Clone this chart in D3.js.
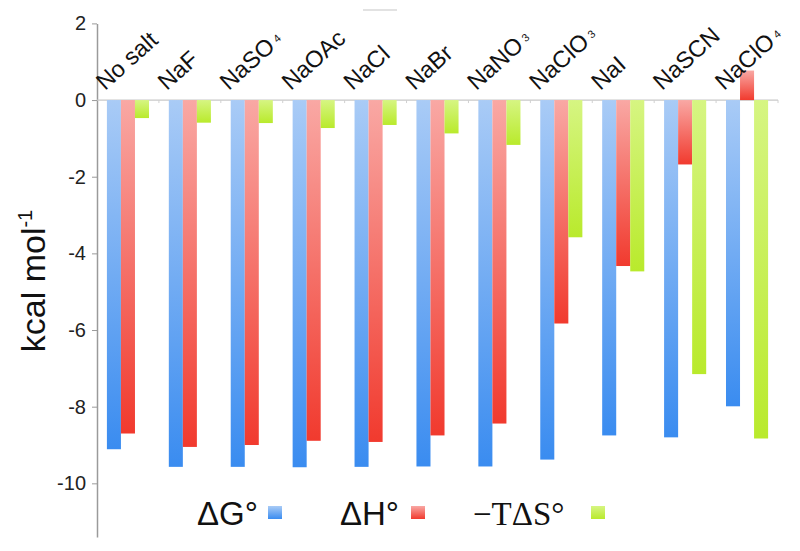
<!DOCTYPE html>
<html>
<head>
<meta charset="utf-8">
<script src="https://cdn.jsdelivr.net/npm/d3@7"></script>
<style>
  html, body { margin: 0; padding: 0; background: #fff; }
  svg { display: block; }
</style>
</head>
<body>
<svg id="chart" width="800" height="551"></svg>
<script>
// ---- data ----
const categories = ["No salt", "NaF", "NaSO4", "NaOAc", "NaCl", "NaBr", "NaNO3", "NaClO3", "NaI", "NaSCN", "NaClO4"];
// label pieces: main text and subscript
const labelMain = ["No salt", "NaF", "NaSO", "NaOAc", "NaCl", "NaBr", "NaNO", "NaClO", "NaI", "NaSCN", "NaClO"];
const labelSub  = ["", "", "4", "", "", "", "3", "3", "", "", "4"];
const dG  = [-9.11, -9.57, -9.57, -9.58, -9.57, -9.56, -9.56, -9.38, -8.75, -8.80, -7.99];
const dH  = [-8.70, -9.05, -9.00, -8.89, -8.92, -8.75, -8.44, -5.83, -4.33, -1.68, 0.77];
const TdS = [-0.47, -0.59, -0.60, -0.73, -0.65, -0.87, -1.17, -3.58, -4.47, -7.15, -8.83];
const seriesNames = ["dG", "dH", "TdS"];
const yTicks = [2, 0, -2, -4, -6, -8, -10];

// ---- layout ----
const svg = d3.select("#chart");
const xLeft = 97, xRight = 778;
const y = d3.scaleLinear().domain([-11.4, 2]).range([537, 23.4]);
const x0 = d3.scaleBand().domain(categories).range([xLeft, xRight]).paddingInner(0.32).paddingOuter(0.16);
const x1 = d3.scaleBand().domain(seriesNames).range([0, x0.bandwidth()]).padding(0);

const colors = {
  dG:  ["#a9cbf6", "#3a8cf0"],
  dH:  ["#f9a8a4", "#f13a2e"],
  TdS: ["#d6f582", "#b9ea2c"]
};
const defs = svg.append("defs");
seriesNames.forEach(s => {
  const g = defs.append("linearGradient").attr("id", "grad-" + s)
    .attr("x1", 0).attr("y1", 0).attr("x2", 0).attr("y2", 1);
  g.append("stop").attr("offset", "0%").attr("stop-color", colors[s][0]);
  g.append("stop").attr("offset", "100%").attr("stop-color", colors[s][1]);
});

// small decorative line at the top
svg.append("line").attr("x1", 363).attr("x2", 397).attr("y1", 10).attr("y2", 10)
  .attr("stroke", "#d8d8d8").attr("stroke-width", 1.5);

// y axis
const yAxis = d3.axisLeft(y).tickValues(yTicks).tickSize(5).tickSizeOuter(0).tickFormat(d3.format("d"));
const gy = svg.append("g").attr("transform", `translate(${xLeft},0)`).call(yAxis);
gy.select(".domain").attr("stroke", "#9a9a9a").attr("stroke-width", 1.5);
gy.selectAll(".tick line").attr("stroke", "#9a9a9a");
gy.selectAll(".tick text")
  .attr("font-family", "Liberation Sans, Arial, sans-serif")
  .attr("font-size", 20).attr("fill", "#222").attr("x", -11)
  .text(d => d < 0 ? "-" + Math.abs(d) : d);

// zero line
svg.append("line").attr("x1", xLeft).attr("x2", xRight).attr("y1", y(0)).attr("y2", y(0))
  .attr("stroke", "#c8c8c8").attr("stroke-width", 1.2);
// small ticks at category boundaries
svg.append("g").selectAll("line").data(categories.slice(1).concat(["__end"]))
  .join("line")
  .attr("x1", (d, i) => xLeft + (i + 1) * x0.step())
  .attr("x2", (d, i) => xLeft + (i + 1) * x0.step())
  .attr("y1", y(0)).attr("y2", y(0) + 3)
  .attr("stroke", "#d0d0d0").attr("stroke-width", 1);

// bars
const seriesData = { dG: dG, dH: dH, TdS: TdS };
const groups = svg.append("g").selectAll("g").data(categories).join("g")
  .attr("transform", d => `translate(${x0(d)},0)`);
groups.selectAll("rect")
  .data((c, i) => seriesNames.map(s => ({ s, v: seriesData[s][i] })))
  .join("rect")
  .attr("x", d => x1(d.s))
  .attr("width", x1.bandwidth())
  .attr("y", d => y(Math.max(0, d.v)))
  .attr("height", d => Math.abs(y(d.v) - y(0)))
  .attr("fill", d => `url(#grad-${d.s})`);

// category labels, rotated; subscript drawn as its own text element
const labelG = svg.append("g").selectAll("g").data(categories).join("g")
  .attr("transform", d => `translate(${x0(d) - 2},91) rotate(-42)`);
labelG.each(function(d, i) {
  const g = d3.select(this);
  const main = g.append("text")
    .attr("x", 0).attr("y", 0)
    .attr("font-family", "Liberation Sans, Arial, sans-serif")
    .attr("font-size", 23.5).attr("fill", "#111")
    .text(labelMain[i]);
  if (labelSub[i]) {
    const w = main.node().getComputedTextLength();
    g.append("text")
      .attr("x", w + 4).attr("y", -3)
      .attr("font-family", "Liberation Sans, Arial, sans-serif")
      .attr("font-size", 11).attr("fill", "#111")
      .text(labelSub[i]);
  }
});

// y axis title
const yt = svg.append("text")
  .attr("transform", "translate(45,281) rotate(-90)")
  .attr("text-anchor", "middle")
  .attr("font-family", "Liberation Sans, Arial, sans-serif")
  .attr("font-size", 34).attr("fill", "#111");
yt.append("tspan").text("kcal mol");
yt.append("tspan").attr("dy", -13).attr("font-size", 20).text("-1");

// legend
const legendItems = [
  { s: "dG",  label: "ΔG°",  x: 197, font: "Liberation Sans, Arial, sans-serif", sq: 268 },
  { s: "dH",  label: "ΔH°",  x: 340, font: "Liberation Sans, Arial, sans-serif", sq: 411 },
  { s: "TdS", label: "−TΔS°", x: 473, font: "Liberation Serif, Times New Roman, serif", sq: 591 }
];
const lg = svg.append("g");
legendItems.forEach(it => {
  lg.append("text").attr("x", it.x).attr("y", 525)
    .attr("font-family", it.font).attr("font-size", 33).attr("fill", "#111")
    .text(it.label);
  lg.append("rect").attr("x", it.sq).attr("y", 506).attr("width", 14).attr("height", 13)
    .attr("fill", `url(#grad-${it.s})`);
});
</script>
</body>
</html>
